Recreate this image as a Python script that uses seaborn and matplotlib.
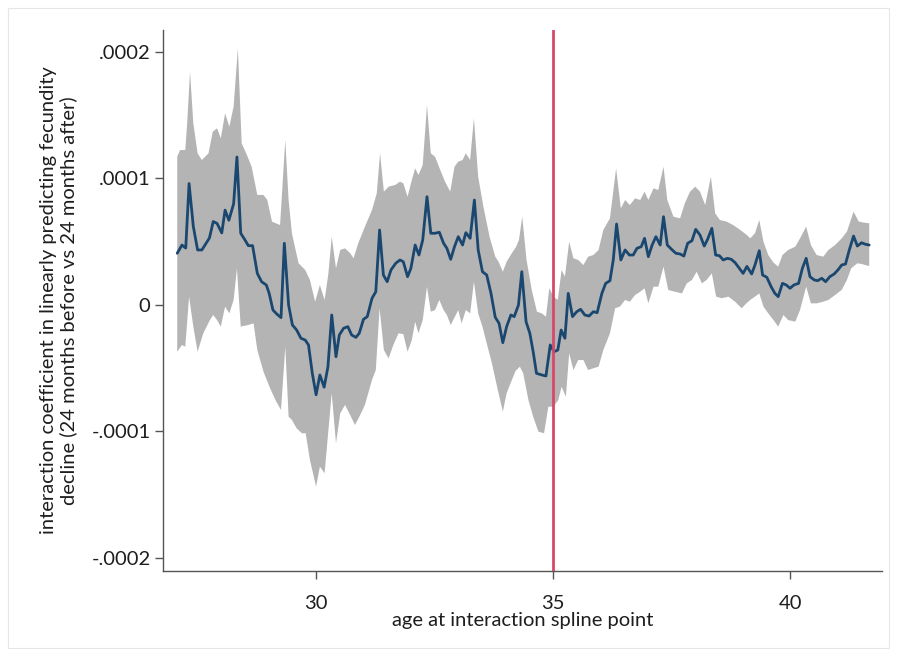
import matplotlib
matplotlib.use("Agg")
import matplotlib.pyplot as plt
import seaborn as sns
import pandas as pd
from matplotlib.patches import Rectangle

# ---- data (coefficient values in units of 1e-5) ----
age = [27.07, 27.17, 27.25, 27.32, 27.41, 27.50, 27.59, 27.75, 27.83, 27.91,
       28.01, 28.08, 28.16, 28.26, 28.33, 28.41, 28.50, 28.57, 28.66, 28.76,
       28.85, 28.95, 29.01, 29.09, 29.17, 29.26, 29.33, 29.42, 29.50, 29.59,
       29.68, 29.77, 29.84, 29.92, 30.00, 30.08, 30.17, 30.25, 30.33, 30.42,
       30.49, 30.58, 30.67, 30.75, 30.84, 30.91, 31.00, 31.08, 31.18, 31.26,
       31.34, 31.42, 31.50, 31.58, 31.68, 31.77, 31.84, 31.93, 32.00, 32.09,
       32.17, 32.25, 32.34, 32.42, 32.51, 32.60, 32.69, 32.76, 32.84, 32.92,
       33.00, 33.09, 33.16, 33.25, 33.34, 33.42, 33.51, 33.60, 33.69, 33.78,
       33.86, 33.94, 34.02, 34.11, 34.18, 34.27, 34.34, 34.43, 34.51, 34.58,
       34.65, 34.76, 34.85, 34.94, 35.02, 35.10, 35.17, 35.25, 35.32, 35.41,
       35.50, 35.58, 35.67, 35.76, 35.85, 35.93, 36.03, 36.11, 36.20, 36.27,
       36.34, 36.43, 36.52, 36.61, 36.69, 36.77, 36.86, 36.93, 37.01, 37.09,
       37.17, 37.26, 37.33, 37.41, 37.50, 37.59, 37.68, 37.76, 37.84, 37.93,
       38.01, 38.10, 38.19, 38.26, 38.35, 38.43, 38.51, 38.59, 38.68, 38.76,
       38.84, 38.93, 39.01, 39.09, 39.19, 39.26, 39.35, 39.42, 39.51, 39.60,
       39.68, 39.75, 39.84, 39.92, 40.00, 40.08, 40.18, 40.26, 40.34, 40.42,
       40.51, 40.58, 40.67, 40.75, 40.84, 40.93, 41.01, 41.09, 41.17, 41.25,
       41.34, 41.42, 41.51, 41.59, 41.67]
coef = [4.09, 4.74, 4.50, 9.60, 6.20, 4.35, 4.35, 5.30, 6.60, 6.45,
        5.70, 7.50, 6.70, 8.00, 11.70, 5.67, 5.14, 4.69, 4.69, 2.50,
        1.84, 1.58, 0.92, -0.40, -0.71, -1.00, 4.88, 0.00, -1.58, -1.98,
        -2.63, -2.77, -3.16, -5.40, -7.10, -5.53, -6.50, -4.88, -0.79, -4.09,
        -2.37, -1.84, -1.71, -2.37, -2.56, -2.24, -1.13, -0.92, 0.53, 1.05,
        5.93, 2.37, 1.84, 2.77, 3.30, 3.56, 3.42, 2.24, 2.90, 4.74,
        3.95, 5.14, 8.56, 5.67, 5.67, 5.75, 4.88, 4.48, 3.61, 4.61,
        5.40, 4.74, 5.72, 5.27, 8.30, 4.35, 2.63, 2.37, 0.92, -0.97,
        -1.45, -2.98, -1.71, -0.79, -0.92, 0.00, 2.63, -1.32, -2.24, -3.69,
        -5.40, -5.53, -5.61, -3.16, -3.69, -3.56, -1.98, -2.63, 0.92, -0.92,
        -0.53, -0.34, -0.79, -0.87, -0.53, -0.61, 0.92, 1.71, 1.92, 3.56,
        6.40, 3.56, 4.35, 3.95, 3.95, 4.48, 4.61, 5.27, 3.82, 4.74,
        5.40, 4.74, 6.98, 4.74, 4.40, 4.09, 4.03, 3.87, 4.88, 5.08,
        5.98, 5.53, 4.66, 5.19, 6.06, 3.95, 3.90, 3.56, 3.69, 3.61,
        3.35, 2.90, 2.50, 3.05, 2.45, 3.16, 4.29, 2.37, 2.19, 1.45,
        0.92, 0.66, 1.71, 1.58, 1.32, 1.58, 1.71, 2.90, 3.69, 2.24,
        1.98, 1.92, 2.11, 1.84, 2.24, 2.45, 2.77, 3.16, 3.24, 4.35,
        5.45, 4.66, 4.92, 4.80, 4.74]

upper_age = [27.07, 27.13, 27.24, 27.28, 27.34, 27.41, 27.50, 27.59, 27.73, 27.82,
             27.91, 27.99, 28.08, 28.17, 28.26, 28.35, 28.43, 28.54, 28.64, 28.76,
             28.89, 28.97, 29.07, 29.24, 29.35, 29.42, 29.49, 29.63, 29.77, 29.87,
             29.98, 30.08, 30.18, 30.26, 30.33, 30.42, 30.51, 30.61, 30.72, 30.79,
             30.89, 31.03, 31.18, 31.28, 31.35, 31.43, 31.53, 31.67, 31.77, 31.84,
             31.93, 32.02, 32.09, 32.16, 32.25, 32.34, 32.42, 32.51, 32.62, 32.72,
             32.83, 32.92, 33.00, 33.09, 33.16, 33.25, 33.33, 33.42, 33.53, 33.66,
             33.78, 33.85, 33.94, 34.02, 34.13, 34.22, 34.28, 34.35, 34.44, 34.55,
             34.66, 34.76, 34.85, 34.92, 35.01, 35.10, 35.18, 35.25, 35.34, 35.43,
             35.53, 35.64, 35.74, 35.85, 35.96, 36.06, 36.20, 36.33, 36.43, 36.52,
             36.62, 36.73, 36.84, 36.93, 37.01, 37.12, 37.22, 37.33, 37.41, 37.54,
             37.68, 37.78, 37.89, 38.00, 38.10, 38.21, 38.33, 38.42, 38.52, 38.66,
             38.80, 38.95, 39.09, 39.16, 39.26, 39.35, 39.44, 39.54, 39.65, 39.75,
             39.84, 39.96, 40.11, 40.23, 40.34, 40.44, 40.56, 40.70, 40.81, 40.95,
             41.09, 41.20, 41.34, 41.45, 41.56, 41.67]
upper_ci = [11.72, 12.25, 12.25, 14.36, 18.44, 14.36, 11.99, 11.46, 11.99, 13.70,
            13.97, 13.18, 15.15, 14.10, 15.68, 20.30, 12.78, 11.86, 10.93, 8.70,
            8.70, 8.30, 6.59, 6.32, 13.04, 8.30, 5.67, 3.30, 2.77, 1.98,
            0.26, 1.58, 0.40, 2.50, 5.40, 2.90, 4.35, 4.48, 4.09, 3.69,
            4.88, 6.19, 7.51, 8.83, 11.99, 8.96, 9.35, 9.49, 9.75, 9.62,
            8.56, 9.88, 10.80, 10.28, 11.07, 15.81, 11.99, 11.72, 10.67, 9.75,
            8.96, 10.93, 11.33, 11.46, 11.99, 11.46, 14.76, 10.14, 7.77, 5.40,
            3.82, 3.42, 2.63, 3.42, 4.09, 4.60, 5.14, 6.98, 3.56, 1.19,
            -0.53, -0.66, -0.92, 1.32, 0.66, 0.40, 2.77, 2.24, 5.00, 3.69,
            3.56, 3.16, 3.82, 3.95, 4.35, 5.93, 6.85, 10.80, 7.64, 8.30,
            7.90, 8.43, 8.30, 8.96, 8.30, 9.22, 9.09, 10.93, 8.30, 6.98,
            6.85, 8.04, 8.96, 9.35, 8.96, 7.90, 10.14, 7.25, 6.72, 6.59,
            6.32, 5.93, 5.53, 5.27, 5.67, 6.72, 5.00, 3.95, 3.35, 3.03,
            3.95, 4.35, 4.61, 5.40, 6.19, 4.74, 3.95, 3.82, 4.35, 4.74,
            5.27, 5.80, 7.38, 6.59, 6.51, 6.46]

lower_age = [27.07, 27.17, 27.24, 27.32, 27.41, 27.50, 27.62, 27.76, 27.83, 27.91,
             27.99, 28.08, 28.17, 28.26, 28.33, 28.41, 28.57, 28.68, 28.76, 28.89,
             29.03, 29.16, 29.26, 29.35, 29.42, 29.49, 29.59, 29.70, 29.78, 29.87,
             30.00, 30.08, 30.18, 30.26, 30.33, 30.42, 30.51, 30.61, 30.72, 30.82,
             30.93, 31.03, 31.18, 31.26, 31.34, 31.43, 31.53, 31.63, 31.74, 31.84,
             31.93, 32.02, 32.09, 32.16, 32.25, 32.34, 32.42, 32.51, 32.60, 32.69,
             32.76, 32.84, 32.93, 33.00, 33.07, 33.16, 33.25, 33.33, 33.42, 33.51,
             33.60, 33.71, 33.81, 33.94, 34.02, 34.13, 34.21, 34.30, 34.37, 34.48,
             34.58, 34.69, 34.81, 34.90, 35.01, 35.11, 35.18, 35.27, 35.34, 35.43,
             35.53, 35.64, 35.74, 35.85, 35.96, 36.06, 36.20, 36.31, 36.41, 36.52,
             36.62, 36.73, 36.84, 36.93, 37.01, 37.12, 37.22, 37.33, 37.43, 37.57,
             37.72, 37.82, 37.93, 38.03, 38.14, 38.24, 38.35, 38.44, 38.56, 38.70,
             38.84, 38.98, 39.07, 39.16, 39.26, 39.35, 39.44, 39.54, 39.65, 39.75,
             39.86, 39.96, 40.11, 40.21, 40.34, 40.44, 40.56, 40.70, 40.81, 40.95,
             41.09, 41.20, 41.29, 41.42, 41.51, 41.67]
lower_ci = [-3.69, -3.16, -3.30, 0.66, -1.71, -3.69, -2.24, -1.19, -0.79, -1.19,
            -1.71, -0.13, -0.66, 0.40, 2.90, -1.71, -1.58, -1.45, -3.56, -5.27,
            -6.59, -7.64, -8.30, -3.30, -8.83, -9.09, -9.75, -10.14, -10.14, -12.25,
            -14.36, -12.78, -13.30, -9.88, -6.98, -10.93, -8.56, -7.90, -8.70, -9.49,
            -8.70, -7.90, -5.93, -5.14, -0.26, -3.56, -4.22, -3.16, -2.24, -2.30,
            -3.69, -2.77, -1.32, -2.24, -1.19, 1.45, -0.53, -0.40, 0.40, -0.40,
            -0.79, -1.58, -0.92, -0.40, -1.45, -0.40, -0.66, 1.84, -0.66, -1.71,
            -3.03, -4.61, -6.32, -8.43, -6.98, -5.93, -5.20, -4.88, -5.40, -7.51,
            -8.83, -10.01, -10.14, -8.04, -8.04, -7.51, -6.46, -7.25, -3.82, -5.14,
            -4.35, -4.35, -5.14, -5.00, -4.88, -3.56, -2.24, -0.26, -0.13, 0.40,
            0.26, 0.79, 1.05, 1.32, 0.13, 1.45, 1.45, 3.03, 1.19, 1.05,
            0.92, 1.71, 1.98, 2.63, 1.71, 1.98, 2.50, 0.66, 0.53, 0.66,
            0.26, -0.26, 0.10, 0.40, 0.66, 0.92, -0.13, -0.66, -1.19, -1.71,
            -0.79, -1.19, -1.32, -0.40, 1.45, 0.13, 0.13, 0.26, 0.40, 0.79,
            1.19, 1.98, 2.90, 3.30, 3.24, 3.08]

y_ticks = [20, 10, 0, -10, -20]
y_tick_labels = [".0002", ".0001", "0", "-.0001", "-.0002"]
x_ticks = [30, 35, 40]
x_tick_labels = ["30", "35", "40"]
ref_age = 35

# ---- plot ----
sns.set_style("white")
plt.rcParams["font.family"] = ["Lato", "DejaVu Sans"]

W, H = 897, 656
fig = plt.figure(figsize=(W / 100, H / 100), dpi=100)
ax = fig.add_axes([163 / W, 1 - 571 / H, (882 - 163) / W, (571 - 30) / H])

band_x = upper_age + lower_age[::-1]
band_y = upper_ci + lower_ci[::-1]
ax.fill(band_x, band_y, color="#b4b4b4", lw=0, zorder=1)

df = pd.DataFrame({"age": age, "coef": coef})
sns.lineplot(data=df, x="age", y="coef", ax=ax, color="#1a476f",
             linewidth=2.0, zorder=3)

ax.axvline(ref_age, color="#d9486a", linewidth=2.0, zorder=4)

ax.set_xlim(26.77, 41.94)
ax.set_ylim(-21.03, 21.74)
ax.set_yticks(y_ticks)
ax.set_yticklabels(y_tick_labels)
ax.set_xticks(x_ticks)
ax.set_xticklabels(x_tick_labels)

for s in ["top", "right"]:
    ax.spines[s].set_visible(False)
for s in ["left", "bottom"]:
    ax.spines[s].set_color("#555555")
    ax.spines[s].set_linewidth(1.0)

txt = "#1e1e1e"
ax.tick_params(axis="both", which="major", direction="out", length=6,
               width=1.0, color="#555555", labelsize=14.5, labelcolor=txt,
               left=True, bottom=True)
ax.tick_params(axis="y", pad=3)
ax.tick_params(axis="x", pad=11)

ax.set_xlabel("age at interaction spline point", fontsize=14.5, color=txt,
              labelpad=0)
ax.set_ylabel("interaction coefficient in linearly predicting fecundity\n"
              "decline (24 months before vs 24 months after)",
              fontsize=14.5, color=txt, linespacing=1.2)
ax.yaxis.set_label_coords(-0.119, 0.5)

fig.patches.append(Rectangle((8 / W, 8 / H), (W - 16) / W, (H - 16) / H,
                             transform=fig.transFigure, fill=False,
                             edgecolor="#e6e6e6", linewidth=0.8))

fig.savefig("out.png", dpi=100, facecolor="white")
